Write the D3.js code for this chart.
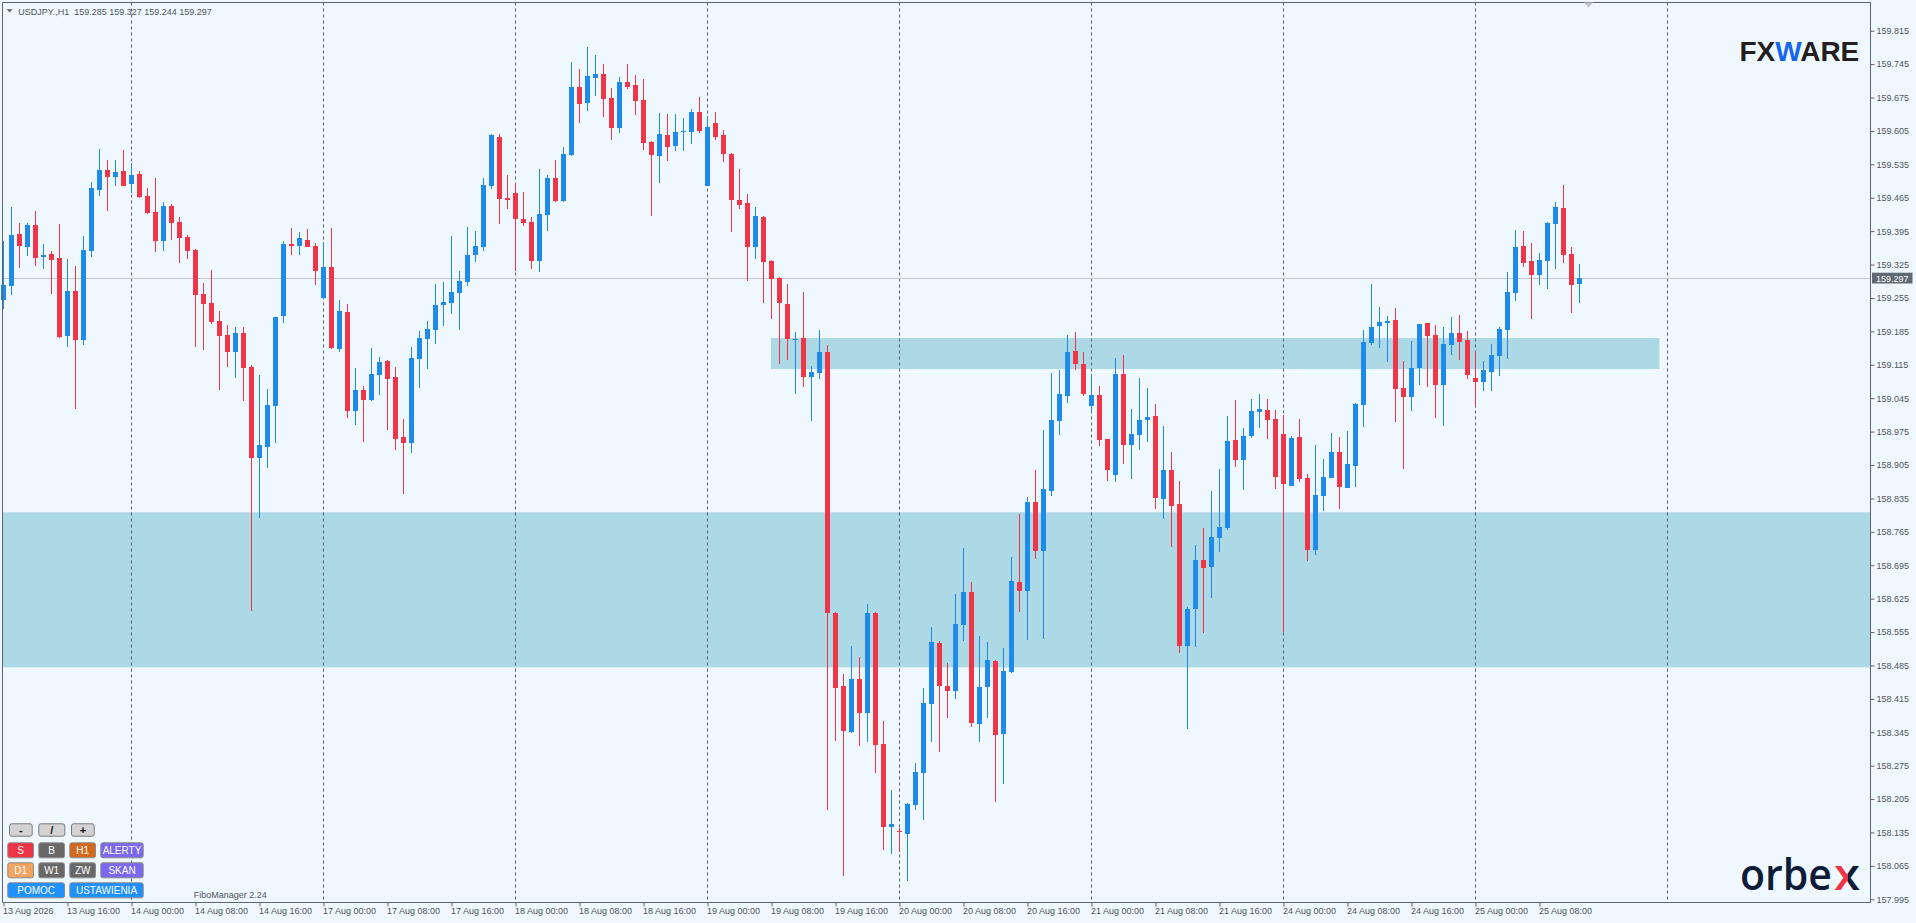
<!DOCTYPE html>
<html>
<head>
<meta charset="utf-8">
<script src="https://cdn.jsdelivr.net/npm/d3@7"></script>
<style>
  html, body { margin: 0; padding: 0; background: #F0F8FF; }
  svg { display: block; font-family: 'Liberation Sans', Arial, sans-serif; }
</style>
</head>
<body>
<div class="chart-container"></div>
<script>
// trading days on the chart (H1 bars), the first day starts at 08:00
const days = ['2026-08-13', '2026-08-14', '2026-08-17', '2026-08-18', '2026-08-19',
              '2026-08-20', '2026-08-21', '2026-08-24', '2026-08-25', '2026-08-26'];
const firstHour = 8;
const symbol = 'USDJPY.,H1';

// USDJPY H1 candles
const opens = [
  159.251,159.281,159.389,159.362,159.408,159.341,159.347,159.339,159.175,159.270,
  159.167,159.353,159.481,159.523,159.508,159.521,159.494,159.515,159.469,159.435,
  159.374,159.448,159.414,159.383,159.355,159.263,159.244,159.207,159.177,159.142,
  159.182,159.110,158.920,158.943,159.029,159.217,159.368,159.364,159.376,159.364,
  159.255,159.320,159.148,159.226,159.018,159.062,159.041,159.094,159.123,159.089,
  158.964,158.951,159.127,159.169,159.188,159.240,159.244,159.265,159.288,159.345,
  159.362,159.490,159.592,159.464,159.475,159.420,159.414,159.332,159.429,159.506,
  159.458,159.555,159.697,159.664,159.716,159.724,159.674,159.611,159.708,159.701,
  159.670,159.582,159.552,159.596,159.573,159.603,159.603,159.645,159.490,159.622,
  159.596,159.557,159.460,159.454,159.362,159.425,159.332,159.297,159.242,159.167,
  159.171,159.089,159.098,159.141,158.595,158.442,158.345,158.457,158.386,158.595,
  158.320,158.146,158.138,158.132,158.192,158.260,158.404,158.532,158.442,158.431,
  158.570,158.638,158.362,158.439,158.494,158.341,158.471,158.659,158.641,158.827,
  158.725,158.850,158.997,159.050,159.144,159.117,159.029,159.052,158.959,158.884,
  159.096,158.947,158.968,158.999,159.008,158.834,158.894,158.823,158.526,158.603,
  158.706,158.691,158.752,158.773,158.957,158.915,158.966,159.016,159.020,159.001,
  158.970,158.861,158.964,158.878,158.727,158.840,158.878,158.932,158.857,158.903,
  159.031,159.161,159.196,159.202,159.209,159.066,159.047,159.108,159.202,159.177,
  159.073,159.156,159.182,159.167,159.087,159.079,159.100,159.133,159.188,159.265,
  159.364,159.332,159.303,159.332,159.410,159.443,159.347,159.285
];
const highs = [
  159.374,159.446,159.412,159.412,159.437,159.368,159.353,159.410,159.337,159.322,
  159.385,159.498,159.567,159.544,159.544,159.565,159.538,159.521,159.485,159.506,
  159.456,159.452,159.425,159.387,159.358,159.286,159.314,159.228,159.198,159.194,
  159.194,159.114,159.094,159.064,159.216,159.374,159.402,159.393,159.400,159.370,
  159.372,159.402,159.251,159.242,159.108,159.070,159.150,159.131,159.124,159.110,
  159.001,159.152,159.186,159.207,159.284,159.288,159.385,159.311,159.404,159.395,
  159.506,159.599,159.599,159.513,159.496,159.477,159.425,159.525,159.513,159.544,
  159.571,159.749,159.735,159.781,159.764,159.745,159.695,159.718,159.745,159.722,
  159.714,159.583,159.643,159.640,159.640,159.632,159.651,159.676,159.636,159.645,
  159.607,159.558,159.525,159.473,159.446,159.427,159.335,159.298,159.284,159.184,
  159.267,159.112,159.188,159.156,158.597,158.467,158.525,158.502,158.614,158.596,
  158.368,158.224,158.144,158.196,158.281,158.438,158.565,158.536,158.490,158.635,
  158.731,158.659,158.546,158.534,158.496,158.522,158.712,158.802,158.838,158.894,
  158.978,159.098,159.104,159.177,159.184,159.142,159.096,159.071,158.960,159.129,
  159.135,159.022,159.087,159.066,159.033,158.987,158.932,158.871,158.607,158.737,
  158.773,158.851,158.897,159.008,159.041,158.983,159.043,159.054,159.043,159.020,
  159.010,158.966,159.001,158.886,158.947,158.918,158.972,158.964,158.976,159.034,
  159.188,159.284,159.236,159.217,159.234,159.123,159.165,159.201,159.203,159.198,
  159.194,159.215,159.219,159.186,159.144,159.123,159.158,159.194,159.309,159.397,
  159.395,159.370,159.349,159.414,159.456,159.492,159.362,159.327
];
const lows = [
  159.232,159.261,159.318,159.343,159.322,159.316,159.263,159.172,159.152,159.022,
  159.156,159.341,159.469,159.437,159.490,159.489,159.475,159.464,159.431,159.351,
  159.353,159.376,159.328,159.337,159.152,159.146,159.200,159.062,159.110,159.087,
  159.039,158.599,158.794,158.899,158.951,159.202,159.345,159.345,159.361,159.282,
  159.253,159.149,159.142,159.003,158.989,158.953,159.040,159.052,158.978,158.936,
  158.844,158.930,159.066,159.106,159.158,159.196,159.221,159.188,159.280,159.330,
  159.353,159.483,159.410,159.441,159.311,159.406,159.316,159.309,159.395,159.456,
  159.457,159.552,159.622,159.647,159.678,159.634,159.586,159.601,159.693,159.638,
  159.565,159.427,159.496,159.542,159.563,159.563,159.578,159.601,159.489,159.586,
  159.540,159.393,159.441,159.290,159.337,159.244,159.211,159.117,159.125,159.054,
  159.068,158.997,159.085,158.182,158.326,158.044,158.344,158.316,158.324,158.260,
  158.098,158.090,158.095,158.033,158.183,158.161,158.324,158.303,158.375,158.415,
  158.536,158.356,158.324,158.375,158.198,158.237,158.470,158.597,158.538,158.708,
  158.540,158.840,158.968,159.035,159.104,159.050,159.014,158.945,158.871,158.869,
  158.907,158.876,158.936,158.953,158.813,158.792,158.733,158.511,158.352,158.524,
  158.553,158.626,158.723,158.769,158.901,158.853,158.962,158.983,158.959,158.855,
  158.555,158.860,158.869,158.704,158.716,158.809,158.877,158.813,158.856,158.859,
  158.985,159.156,159.150,159.121,158.995,158.897,159.018,159.073,159.068,159.003,
  158.987,159.135,159.125,159.085,159.028,159.060,159.060,159.091,159.127,159.249,
  159.320,159.211,159.282,159.274,159.316,159.328,159.223,159.244
];
const closes = [
  159.282,159.387,159.364,159.408,159.339,159.345,159.334,159.173,159.270,159.167,
  159.355,159.485,159.523,159.508,159.519,159.490,159.513,159.467,159.433,159.374,
  159.448,159.412,159.381,159.353,159.261,159.242,159.205,159.175,159.142,159.182,
  159.108,158.920,158.947,159.031,159.215,159.368,159.364,159.381,159.362,159.311,
  159.320,159.150,159.228,159.018,159.062,159.041,159.096,159.121,159.085,158.959,
  158.951,159.129,159.171,159.190,159.240,159.246,159.267,159.290,159.345,159.364,
  159.492,159.596,159.462,159.460,159.420,159.412,159.332,159.431,159.506,159.458,
  159.557,159.697,159.661,159.720,159.724,159.672,159.611,159.708,159.697,159.668,
  159.580,159.555,159.599,159.571,159.603,159.605,159.645,159.605,159.613,159.592,
  159.557,159.460,159.450,159.362,159.427,159.330,159.295,159.244,159.169,159.169,
  159.089,159.100,159.142,158.595,158.438,158.348,158.457,158.386,158.595,158.318,
  158.146,158.153,158.135,158.195,158.261,158.406,158.534,158.442,158.431,158.572,
  158.638,158.365,158.439,158.496,158.339,158.473,158.662,158.641,158.827,158.725,
  158.855,158.999,159.054,159.142,159.117,159.054,159.052,158.957,158.894,159.096,
  158.947,158.970,158.999,159.006,158.836,158.894,158.819,158.526,158.603,158.706,
  158.689,158.754,158.775,158.955,158.915,158.966,159.018,159.022,158.999,158.880,
  158.865,158.962,158.876,158.727,158.842,158.880,158.932,158.859,158.907,159.033,
  159.163,159.194,159.205,159.207,159.064,159.047,159.108,159.200,159.175,159.073,
  159.158,159.182,159.163,159.093,159.079,159.104,159.135,159.190,159.267,159.362,
  159.328,159.303,159.335,159.412,159.446,159.345,159.282,159.297
];

// price axis labels
const yTicks = [
  157.995,158.065,158.135,158.205,158.275,158.345,158.415,158.485,158.555,
  158.625,158.695,158.765,158.835,158.905,158.975,159.045,159.115,159.185,
  159.255,159.325,159.395,159.465,159.535,159.605,159.675,159.745,159.815
];

// supply / demand zones: price bounds and bar span (null = whole chart)
const zoneLows   = [158.481, 159.106];
const zoneHighs  = [158.806, 159.171];
const zoneStarts = [null, 96];
const zoneEnds   = [null, 207];

// panel buttons in the lower left corner
const buttonRows = [
  [{t:'-', x:9, w:23.7, c:'#d3d3d3', f:'#111'}, {t:'/', x:38.3, w:27, c:'#d3d3d3', f:'#111'}, {t:'+', x:71, w:23.7, c:'#d3d3d3', f:'#111'}],
  [{t:'S', x:7.3, w:26.7, c:'#ef3446'}, {t:'B', x:38.3, w:26.7, c:'#686868'}, {t:'H1', x:69.3, w:26.7, c:'#d2691e'}, {t:'ALERTY', x:100.3, w:43.4, c:'#7b68ee'}],
  [{t:'D1', x:7.3, w:26.7, c:'#f4a460'}, {t:'W1', x:38.3, w:26.7, c:'#686868'}, {t:'ZW', x:69.3, w:26.7, c:'#686868'}, {t:'SKAN', x:100.3, w:43.4, c:'#7b68ee'}],
  [{t:'POMOC', x:7.3, w:57.7, c:'#1e90ff'}, {t:'USTAWIENIA', x:69.3, w:74.4, c:'#1e90ff'}]
];
const buttonTops = [823.3, 842.3, 862.3, 882.3];
const buttonHeights = [13.4, 16, 16, 16];

const BULL = '#1E8BEA';
const BEAR = '#F03549';
const AXIS = '#5b6670';
const TEXT = '#4f555b';

function buildTimeline(){
    const parseDay = d3.timeParse('%Y-%m-%d');
    const timeline = [];
    days.forEach((d, k) => {
        const start = k === 0 ? firstHour : 0;
        for (let h = start; h < 24; h++) timeline.push(d3.timeHour.offset(parseDay(d), h));
    });
    return timeline;
}

function prepareBars(timeline){
    return opens.map((o, i) => ({
        i: i,
        time: timeline[i],
        open: o,
        high: highs[i],
        low: lows[i],
        close: closes[i]
    }));
}

function setupCanvas(bars, timeline){
    const svg_width = 1916;
    const svg_height = 923;
    const plot = {left: 2.5, top: 2.5, right: 1870.5, bottom: 902.5};

    const svg = d3.select('.chart-container').append('svg')
        .attr('width', svg_width).attr('height', svg_height);

    svg.append('rect').attr('width', svg_width).attr('height', svg_height).attr('fill', '#F0F8FF');

    // 8 px per bar
    const xScale = d3.scaleLinear().domain([0, 1]).range([3.5, 11.5]);
    const yScale = d3.scaleLinear().domain([157.995, 159.815]).range([899.3, 30.7]);

    // zones
    svg.append('g').attr('class', 'zones')
        .selectAll('rect').data(zoneLows).enter()
        .append('rect')
        .attr('x', (d, k) => zoneStarts[k] === null ? plot.left : xScale(zoneStarts[k]) - 0.5)
        .attr('width', (d, k) => {
            const x0 = zoneStarts[k] === null ? plot.left : xScale(zoneStarts[k]) - 0.5;
            const x1 = zoneEnds[k] === null ? plot.right : xScale(zoneEnds[k]);
            return x1 - x0;
        })
        .attr('y', (d, k) => yScale(zoneHighs[k]))
        .attr('height', (d, k) => yScale(zoneLows[k]) - yScale(zoneHighs[k]))
        .attr('fill', '#ADD8E6');

    // day separators
    const dayStarts = timeline.map((t, i) => i).filter(i => timeline[i].getHours() === 0);
    svg.append('g').attr('class', 'day-grid')
        .selectAll('line').data(dayStarts).enter()
        .append('line')
        .attr('x1', d => xScale(d)).attr('x2', d => xScale(d))
        .attr('y1', plot.top).attr('y2', plot.bottom)
        .style('stroke', '#55606a').style('stroke-dasharray', '3,3');

    // bid line
    const last = bars[bars.length - 1];
    const bidY = Math.round(yScale(last.close)) + 0.5;
    svg.append('line')
        .attr('x1', plot.left).attr('x2', plot.right)
        .attr('y1', bidY).attr('y2', bidY)
        .style('stroke', '#c6c9cc');

    // candles
    const candles = svg.append('g').attr('class', 'candles')
        .selectAll('.candle').data(bars).enter()
        .append('g').attr('class', 'candle')
        .style('fill', d => d.close >= d.open ? BULL : BEAR);
    candles.append('rect')
        .attr('x', d => xScale(d.i) - 0.5).attr('width', 1)
        .attr('y', d => Math.round(yScale(d.high)))
        .attr('height', d => Math.max(1, Math.round(yScale(d.low)) - Math.round(yScale(d.high))));
    candles.append('rect')
        .attr('x', d => xScale(d.i) - 2.5).attr('width', 5)
        .attr('y', d => Math.round(yScale(Math.max(d.open, d.close))))
        .attr('height', d => Math.max(1, Math.round(yScale(Math.min(d.open, d.close))) - Math.round(yScale(Math.max(d.open, d.close)))));

    // frame
    const frame = svg.append('g').style('stroke', AXIS).style('fill', 'none');
    frame.append('path').attr('d', `M${plot.left},${plot.bottom}V${plot.top}H${plot.right}V${plot.bottom}H${plot.left}`);

    // price axis
    const yAxis = d3.axisRight(yScale)
        .tickValues(yTicks)
        .tickFormat(d3.format('.3f'))
        .tickSizeInner(4).tickSizeOuter(0).tickPadding(2);
    const yAxisDraw = svg.append('g').attr('class', 'y axis')
        .attr('transform', `translate(${plot.right},0)`)
        .call(yAxis)
        .attr('font-family', null).attr('font-size', null);
    yAxisDraw.select('.domain').remove();
    yAxisDraw.selectAll('line').style('stroke', AXIS);
    yAxisDraw.selectAll('text').style('font-size', '9px').style('fill', TEXT);

    // time axis
    const xTicks = d3.range(0, bars.length, 8);
    const fmtFirst = d3.timeFormat('%d %b %Y');
    const fmtTime = d3.timeFormat('%d %b %H:%M');
    const xAxis = d3.axisBottom(xScale)
        .tickValues(xTicks)
        .tickFormat(i => i === 0 ? fmtFirst(timeline[i]) : fmtTime(timeline[i]))
        .tickSizeInner(4).tickSizeOuter(0).tickPadding(1.5);
    const xAxisDraw = svg.append('g').attr('class', 'x axis')
        .attr('transform', `translate(0,${plot.bottom})`)
        .call(xAxis)
        .attr('font-family', null).attr('font-size', null);
    xAxisDraw.select('.domain').remove();
    xAxisDraw.selectAll('line').style('stroke', AXIS);
    xAxisDraw.selectAll('text')
        .attr('x', -1)
        .style('text-anchor', 'start')
        .style('font-size', '9px').style('fill', TEXT);

    // bid label
    const fmt = d3.format('.3f');
    svg.append('rect')
        .attr('x', plot.right + 1.5).attr('y', bidY - 5.8)
        .attr('width', 40.5).attr('height', 10.8)
        .attr('fill', '#5f6a72');
    svg.append('text')
        .attr('x', plot.right + 5.5).attr('y', bidY)
        .attr('dy', '0.34em')
        .text(fmt(last.close))
        .style('font-size', '9px').style('fill', '#ffffff');

    // chart shift marker
    svg.append('path')
        .attr('d', 'M1584,2.5L1593,2.5L1588.5,7.5Z')
        .attr('fill', '#c3c6c9');

    // header
    svg.append('path').attr('d', 'M6.5,9.3L12.5,9.3L9.5,12.3Z').attr('fill', '#5a5f64');
    svg.append('text')
        .attr('x', 18.3).attr('y', 14.6)
        .style('white-space', 'pre')
        .text(`${symbol}  ${fmt(last.open)} ${fmt(last.high)} ${fmt(last.low)} ${fmt(last.close)}`)
        .style('font-size', '9px').style('fill', TEXT);

    drawLogos(svg);
    drawButtons(svg);
}

function drawLogos(svg){
    const fx = svg.append('text')
        .attr('x', 1739.5).attr('y', 60.7)
        .style('font-size', '28px').style('font-weight', 'bold')
        .style('fill', '#231f20');
    fx.append('tspan').text('FX');
    fx.append('tspan').text('W').style('fill', '#1866ee');
    fx.append('tspan').text('ARE');

    const defs = svg.append('defs');
    const grad = defs.append('linearGradient').attr('id', 'orbex-x')
        .attr('x1', '0%').attr('x2', '100%').attr('y1', '0%').attr('y2', '0%');
    grad.append('stop').attr('offset', '52%').attr('stop-color', '#ef3446');
    grad.append('stop').attr('offset', '52%').attr('stop-color', '#0e1c38');

    // orbex: "orbe" fills 1740-1832, the two-colour "x" sits right after it
    svg.append('text')
        .attr('x', 1740).attr('y', 890)
        .attr('textLength', 92).attr('lengthAdjust', 'spacingAndGlyphs')
        .text('orbe')
        .style('font-family', "'Open Sans', sans-serif")
        .style('font-size', '43.5px').style('font-weight', 600)
        .style('fill', '#0e1c38');
    svg.append('text')
        .attr('x', 1834).attr('y', 890)
        .attr('textLength', 26).attr('lengthAdjust', 'spacingAndGlyphs')
        .text('x')
        .style('font-family', "'Open Sans', sans-serif")
        .style('font-size', '43.5px').style('font-weight', 600)
        .style('fill', 'url(#orbex-x)');

    svg.append('text')
        .attr('x', 193.7).attr('y', 897.6)
        .text('FiboManager 2.24')
        .style('font-size', '9px').style('fill', '#4f555b');
}

function drawButtons(svg){
    buttonRows.forEach((row, r) => {
        const g = svg.append('g').attr('class', 'button-row')
            .attr('transform', `translate(0,${buttonTops[r]})`);
        const b = g.selectAll('g').data(row).enter().append('g');
        b.append('rect')
            .attr('x', d => d.x + 0.5).attr('y', 0.5)
            .attr('width', d => d.w - 1).attr('height', buttonHeights[r] - 1)
            .attr('rx', 2)
            .attr('fill', d => d.c)
            .attr('stroke', r === 0 ? '#7a7a7a' : '#8a8a8a');
        b.append('text')
            .attr('x', d => d.x + d.w / 2)
            .attr('y', buttonHeights[r] / 2)
            .attr('dy', '0.36em')
            .attr('text-anchor', 'middle')
            .text(d => d.t)
            .style('font-size', r === 0 ? '11px' : '10px')
            .style('font-weight', r === 0 ? 'bold' : 'normal')
            .style('fill', d => d.f || '#ffffff');
    });
}

function ready(){
    const timeline = buildTimeline();
    const bars = prepareBars(timeline);
    setupCanvas(bars, timeline);
}

ready();
</script>
</body>
</html>
